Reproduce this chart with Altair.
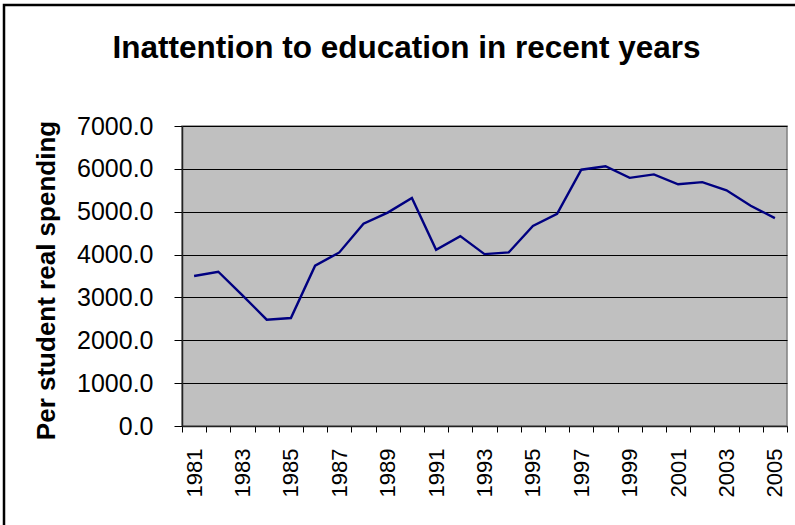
import altair as alt
import pandas as pd

years = [1981, 1982, 1983, 1984, 1985, 1986, 1987, 1988, 1989, 1990,
         1991, 1992, 1993, 1994, 1995, 1996, 1997, 1998, 1999, 2000,
         2001, 2002, 2003, 2004, 2005]
spending = [3500, 3600, 3050, 2480, 2520, 3740, 4050, 4720, 4980, 5320,
            4110, 4430, 4010, 4050, 4670, 4950, 5980, 6060, 5790, 5870,
            5640, 5690, 5500, 5140, 4850]
y_ticks = [0, 1000, 2000, 3000, 4000, 5000, 6000, 7000]
chart_title = "Inattention to education in recent years"
y_title = "Per student real spending"

df = pd.DataFrame({"year": years, "spending": spending})

line = alt.Chart(df).mark_line(color="#000080", strokeWidth=2.4).encode(
    x=alt.X(
        "year:O",
        scale=alt.Scale(type="band", paddingInner=0, paddingOuter=0),
        axis=alt.Axis(
            title=None,
            labelAngle=270,
            labelAlign="right",
            labelBaseline="middle",
            labelExpr="datum.value % 2 == 1 ? datum.label : ''",
            labelFontSize=22,
            labelPadding=16,
            labelOverlap=False,
            labelColor="black",
            tickBand="extent",
            tickSize=6,
            tickColor="black",
            domainColor="#222222",
            domainWidth=1.5,
            grid=False,
        ),
    ),
    y=alt.Y(
        "spending:Q",
        scale=alt.Scale(domain=[0, 7000], nice=False),
        axis=alt.Axis(
            values=y_ticks,
            format=".1f",
            title=y_title,
            titleFontSize=26,
            titleFontWeight="bold",
            titleColor="black",
            titleAngle=270,
            titleAlign="center",
            titleBaseline="alphabetic",
            titleX=-128,
            titleY=154,
            labelFontSize=25,
            labelPadding=21,
            labelColor="black",
            tickSize=8,
            tickColor="black",
            domainColor="#222222",
            domainWidth=1.5,
            grid=True,
            gridColor="black",
            gridWidth=1,
        ),
    ),
)

frame = alt.Chart(alt.Data(values=[{"k": 1}])).mark_rect(
    fill=None, stroke="black", strokeWidth=2.5
).encode(
    x=alt.value(-178), x2=alt.value(700),
    y=alt.value(-121), y2=alt.value(500),
)

chart = alt.layer(frame, line).properties(
    width=605,
    height=300,
    title=alt.TitleParams(
        text=chart_title,
        fontSize=31.5,
        fontWeight="bold",
        color="black",
        anchor="middle",
        frame="group",
        dx=-78,
        baseline="alphabetic",
        offset=0,
        dy=86,
    ),
    autosize=alt.AutoSizeParams(type="none"),
    padding={"left": 182, "top": 126, "right": 8, "bottom": 99},
).configure(
    font="Liberation Sans",
    background="white",
).configure_view(
    fill="#C0C0C0",
    stroke="#808080",
    strokeWidth=1.5,
)

chart.save("out.html", embed_options={"renderer": "svg", "actions": False})
